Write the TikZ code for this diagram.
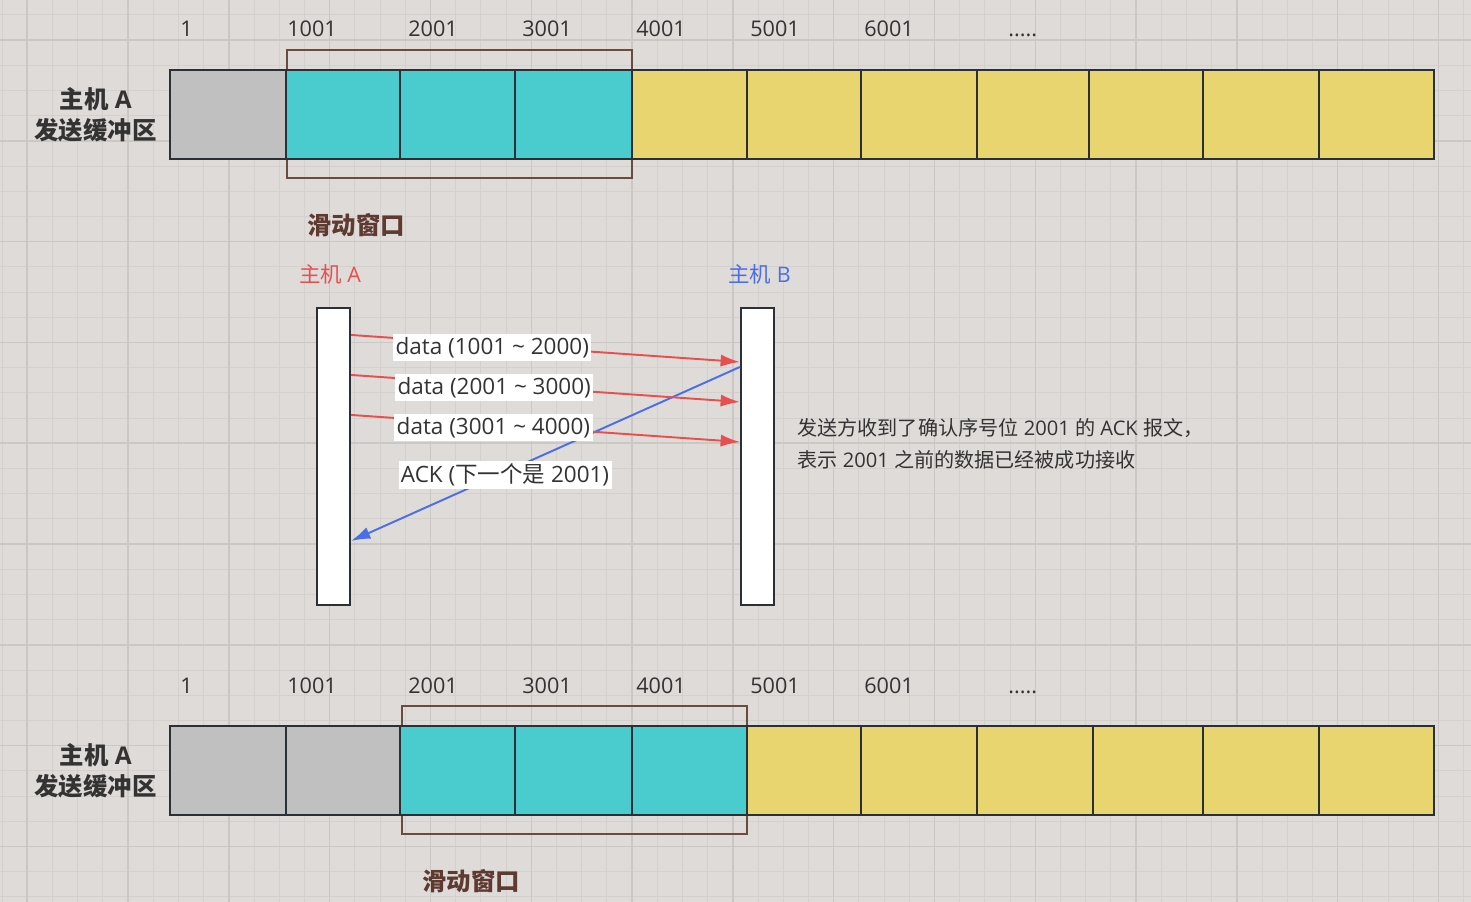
\documentclass[tikz,border=0pt]{standalone}
\usepackage{fontspec}
\setmainfont{Open Sans}
\newfontfamily\cjkfont{Noto Sans CJK SC}
\newcommand{\zhtext}[1]{{\cjkfont #1}}
\usetikzlibrary{positioning, arrows.meta, calc}

\definecolor{bgpaper}{HTML}{DFDBD9}
\definecolor{gridminor}{HTML}{D4D0CE}
\definecolor{gridmajor}{HTML}{CBC7C5}
\definecolor{usedgray}{HTML}{C0C0C0}
\definecolor{wincyan}{HTML}{4ACCCF}
\definecolor{freeyellow}{HTML}{E8D56F}
\definecolor{cellline}{HTML}{2A3037}
\definecolor{winbrown}{HTML}{6B4A40}
\definecolor{labelbrown}{HTML}{5E3A30}
\definecolor{sendred}{HTML}{E84F4F}
\definecolor{ackblue}{HTML}{4A6EE8}
\definecolor{txtdark}{HTML}{333333}

\tikzset{
  cell/.style={draw=cellline, line width=1.2pt, minimum height=1.78cm, inner sep=0pt, outer sep=0pt},
  winbox/.style={draw=winbrown, line width=0.9pt, minimum width=6.9cm, minimum height=2.56cm, inner sep=0pt},
  seqnum/.style={anchor=base west, inner sep=0pt, text=txtdark, font=\fontsize{12.3}{14}\selectfont},
  buflabel/.style={align=center, inner sep=0pt, text=txtdark, font=\bfseries\fontsize{13.9}{17.6}\selectfont},
  winlabel/.style={inner sep=0pt, text=labelbrown, font=\bfseries\fontsize{13.9}{16}\selectfont},
  lifeline/.style={draw=cellline, fill=white, line width=1.2pt, minimum width=0.66cm, minimum height=5.94cm, inner sep=0pt},
  hostname/.style={inner sep=0pt, font=\fontsize{12.2}{14}\selectfont},
  msg/.style={line width=1.1pt, -{Latex[length=11pt, width=7pt]}},
  msglabel/.style={fill=white, inner xsep=1.4pt, inner ysep=1.6pt, yshift=-1.5pt, text=txtdark, font=\fontsize{12.8}{14}\selectfont},
  note/.style={align=left, inner sep=0pt, text=txtdark, font=\fontsize{11.45}{18.1}\selectfont},
}

\begin{document}
\begin{tikzpicture}[x=0.02cm, y=-0.02cm]

  % 背景和网格
  \fill[bgpaper] (0,0) rectangle (1471,902);
  \useasboundingbox (0,0) rectangle (1471,902);
  \foreach \k in {0,...,58} \draw[gridminor, line width=0.5pt] ({2+25.2*\k},0) -- ++(0,902);
  \foreach \k in {0,...,35} \draw[gridminor, line width=0.5pt] (0,{14.8+25.2*\k}) -- ++(1471,0);
  \foreach \k in {0,...,14} \draw[gridmajor, line width=0.8pt] ({27.2+100.8*\k},0) -- ++(0,902);
  \foreach \k in {0,...,8} \draw[gridmajor, line width=0.8pt] (0,{40+100.8*\k}) -- ++(1471,0);

  % --- 上面的发送缓冲区 ---
  \node[winbox] (winTop) at (459.5,114) {};
  \foreach \l/\r/\c [count=\i from 0] in {170/286/usedgray, 286/400/wincyan, 400/515/wincyan,
      515/632/wincyan, 632/747/freeyellow, 747/861/freeyellow, 861/977/freeyellow,
      977/1089/freeyellow, 1089/1203/freeyellow, 1203/1319/freeyellow, 1319/1434/freeyellow}
    \node[cell, fill=\c, minimum width={(\r-\l)*0.02cm}] (top\i) at ({(\l+\r)/2},114.5) {};
  \foreach \n/\x [count=\j] in {1/180, 1001/287, 2001/408, 3001/522, 4001/636, 5001/750, 6001/864}
    \node[seqnum] (tn\j) at (\x,37) {\n};
  \node[seqnum] (tn8) at (1008,37) {.....};
  \node[buflabel, left=0.26cm of top0] (bufTop) {\zhtext{主机} A\\\zhtext{发送缓冲区}};
  \node[winlabel] (wlTop) at (356,225) {\zhtext{滑动窗口}};

  % --- 主机 A 和 主机 B ---
  \node[lifeline] (hostA) at (333.5,456.5) {};
  \node[lifeline] (hostB) at (757.5,456.5) {};
  \node[hostname, text=sendred, above=0.45cm of hostA, xshift=-0.07cm] (nameA) {\zhtext{主机} A};
  \node[hostname, text=ackblue, above=0.45cm of hostB, xshift=0.04cm] (nameB) {\zhtext{主机} B};

  \coordinate (a1) at ([yshift=-0.56cm]hostA.north east);
  \coordinate (a2) at ([yshift=-1.36cm]hostA.north east);
  \coordinate (a3) at ([yshift=-2.16cm]hostA.north east);
  \coordinate (a4) at ([yshift=-4.68cm]hostA.north east);
  \coordinate (b1) at ([yshift=-1.10cm]hostB.north west);
  \coordinate (b2) at ([yshift=-1.90cm]hostB.north west);
  \coordinate (b3) at ([yshift=-2.70cm]hostB.north west);
  \coordinate (b4) at ([yshift=-1.20cm]hostB.north west);

  % ACK 先画，数据报文盖在上面
  \draw[msg, ackblue] (b4) -- node[msglabel, pos=0.604] (ack) {ACK (\zhtext{下一个是} 2001)} (a4);
  \draw[msg, sendred] (a1) -- node[msglabel, pos=0.363] (d1) {data (1001 \textasciitilde{} 2000)} (b1);
  \draw[msg, sendred] (a2) -- node[msglabel, pos=0.368] (d2) {data (2001 \textasciitilde{} 3000)} (b2);
  \draw[msg, sendred] (a3) -- node[msglabel, pos=0.366] (d3) {data (3001 \textasciitilde{} 4000)} (b3);

  \node[note, anchor=west] (note) at (797,444)
    {\zhtext{发送方收到了确认序号位} 2001 \zhtext{的} ACK \zhtext{报文，}\\\zhtext{表示} 2001 \zhtext{之前的数据已经被成功接收}};

  % --- 下面的发送缓冲区（窗口右移） ---
  \node[winbox] (winBot) at (574.5,770) {};
  \foreach \l/\r/\c [count=\i from 0] in {170/286/usedgray, 286/400/usedgray, 400/515/wincyan,
      515/632/wincyan, 632/747/wincyan, 747/861/freeyellow, 861/977/freeyellow,
      977/1093/freeyellow, 1093/1203/freeyellow, 1203/1319/freeyellow, 1319/1434/freeyellow}
    \node[cell, fill=\c, minimum width={(\r-\l)*0.02cm}] (bot\i) at ({(\l+\r)/2},770.5) {};
  \foreach \n/\x [count=\j] in {1/180, 1001/287, 2001/408, 3001/522, 4001/636, 5001/750, 6001/864}
    \node[seqnum] (bn\j) at (\x,693) {\n};
  \node[seqnum] (bn8) at (1008,693) {.....};
  \node[buflabel, left=0.26cm of bot0] (bufBot) {\zhtext{主机} A\\\zhtext{发送缓冲区}};
  \node[winlabel] (wlBot) at (471,881) {\zhtext{滑动窗口}};

\end{tikzpicture}
\end{document}
